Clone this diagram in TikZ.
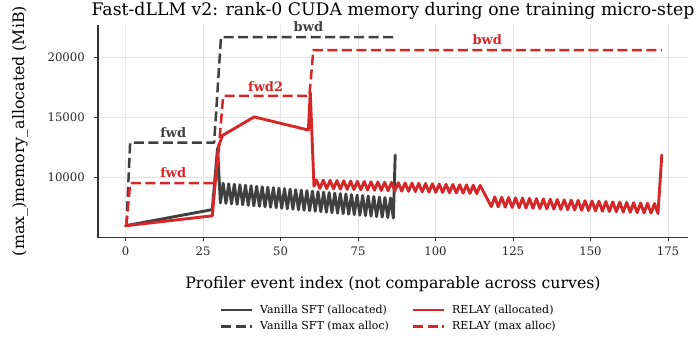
\documentclass[tikz,border=0pt]{standalone}
\usepackage{fontspec}
\setmainfont{DejaVu Serif}
\usepackage{xcolor}
\usetikzlibrary{positioning}
\definecolor{vanillac}{HTML}{404040}
\definecolor{relayc}{HTML}{D62728}
\definecolor{gridc}{HTML}{E6E6E6}
\definecolor{spinec}{HTML}{333333}

\begin{document}
\begin{tikzpicture}[x=1pt, y=1pt,
    gridline/.style={draw=gridc, line width=0.9pt},
    spine/.style={draw=spinec, line width=1.1pt},
    axtick/.style={draw=spinec, line width=0.9pt},
    ticklab/.style={font=\fontsize{11.7}{13}\selectfont, text=black!85, inner sep=0pt},
    alloc/.style={line width=2.9pt, line join=round, line cap=round},
    maxal/.style={line width=2.5pt, dash pattern=on 10pt off 4.5pt, line join=round},
    tag/.style={font=\fontsize{13}{15}\selectfont\bfseries, inner sep=0pt},
    legtext/.style={font=\fontsize{11}{13}\selectfont, anchor=west, inner sep=0pt}]
  \useasboundingbox (0,0) rectangle (698,338);
  \begin{scope}[shift={(125.5,41.1)}, x=3.1pt, y=11.96pt]
    \foreach \gx in {0,25,...,175} {
      \draw[gridline] (\gx,4.967) -- (\gx,22.73);
      \draw[axtick] (\gx,4.967) -- ++(0pt,-4pt);
      \node[ticklab, anchor=north] (xt\gx) at ([yshift=-9pt]\gx,4.967) {\gx};
    }
    \foreach \gy in {10,15,20} {
      \draw[gridline] (-8.87,\gy) -- (181.45,\gy);
      \draw[axtick] (-8.87,\gy) -- ++(-4pt,0pt);
      \node[ticklab, anchor=east] (yt\gy) at ([xshift=-13pt]-8.87,\gy) {\gy000};
    }
    \draw[spine] (-8.87,22.73) -- (-8.87,4.967) -- (181.45,4.967);
    \draw[alloc, vanillac] (0,5.95) -- (28,7.3) -- (29.7,12.45)
      -- plot[domain=0:62, samples=63] ({30.6+0.9*\x}, {8.69-0.0205*\x-0.83*cos(180*\x)})
      -- (87,11.86);
    \draw[maxal, vanillac] (0.3,5.95) -- (1.5,12.9) -- (28.6,12.9) -- (30.8,21.72) -- (87,21.72);
    \draw[alloc, relayc] (0,5.95) -- (28,6.78) -- (30,12.6) -- (31.3,13.5) -- (41.5,15.05)
      -- (59,13.95) -- (59.6,17.1) -- (60.8,9.25)
      -- plot[domain=0:48, samples=49] ({61.6+1.1*\x}, {9.43-0.0095*\x+0.35*cos(180*\x)})
      -- plot[domain=0:48, samples=49] ({118+1.12*\x}, {7.96-0.012*\x-0.41*cos(180*\x)})
      -- (173,11.86);
    \draw[maxal, relayc] (0.3,5.95) -- (1.5,9.52) -- (29.2,9.52) -- (31.5,16.8) -- (59.3,16.8)
      -- (60.6,20.64) -- (173,20.64);
    \node[tag, text=vanillac] (fwdv) at (15.4,13.73) {fwd};
    \node[tag, text=relayc] (fwdr) at (15.4,10.38) {fwd};
    \node[tag, text=relayc] (fwdtwo) at (45.2,17.57) {fwd2};
    \node[tag, text=vanillac] (bwdv) at (59,22.59) {bwd};
    \node[tag, text=relayc] (bwdr) at (116.7,21.48) {bwd};
  \end{scope}
  \node[font=\fontsize{17.3}{20}\selectfont, inner sep=0pt] (title) at (393,327) {Fast-dLLM v2: rank-0 CUDA memory during one training micro-step};
  \node[font=\fontsize{15.8}{18}\selectfont, inner sep=0pt] (xlab) at (393,54) {Profiler event index (not comparable across curves)};
  \node[font=\fontsize{15.8}{18}\selectfont, inner sep=0pt, rotate=90] (ylab) at (20,207) {(max\_)memory\_allocated (MiB)};
  \node[legtext] (lva) at (260,28) {Vanilla SFT (allocated)};
  \node[legtext] (lvm) at (260,11.5) {Vanilla SFT (max alloc)};
  \node[legtext] (lra) at (452,28) {RELAY (allocated)};
  \node[legtext] (lrm) at (452,11.5) {RELAY (max alloc)};
  \draw[alloc, vanillac, line cap=butt] ([xshift=-39pt]lva.west) -- ([xshift=-8pt]lva.west);
  \draw[maxal, vanillac] ([xshift=-39pt]lvm.west) -- ([xshift=-8pt]lvm.west);
  \draw[alloc, relayc, line cap=butt] ([xshift=-39pt]lra.west) -- ([xshift=-8pt]lra.west);
  \draw[maxal, relayc] ([xshift=-39pt]lrm.west) -- ([xshift=-8pt]lrm.west);
\end{tikzpicture}
\end{document}
